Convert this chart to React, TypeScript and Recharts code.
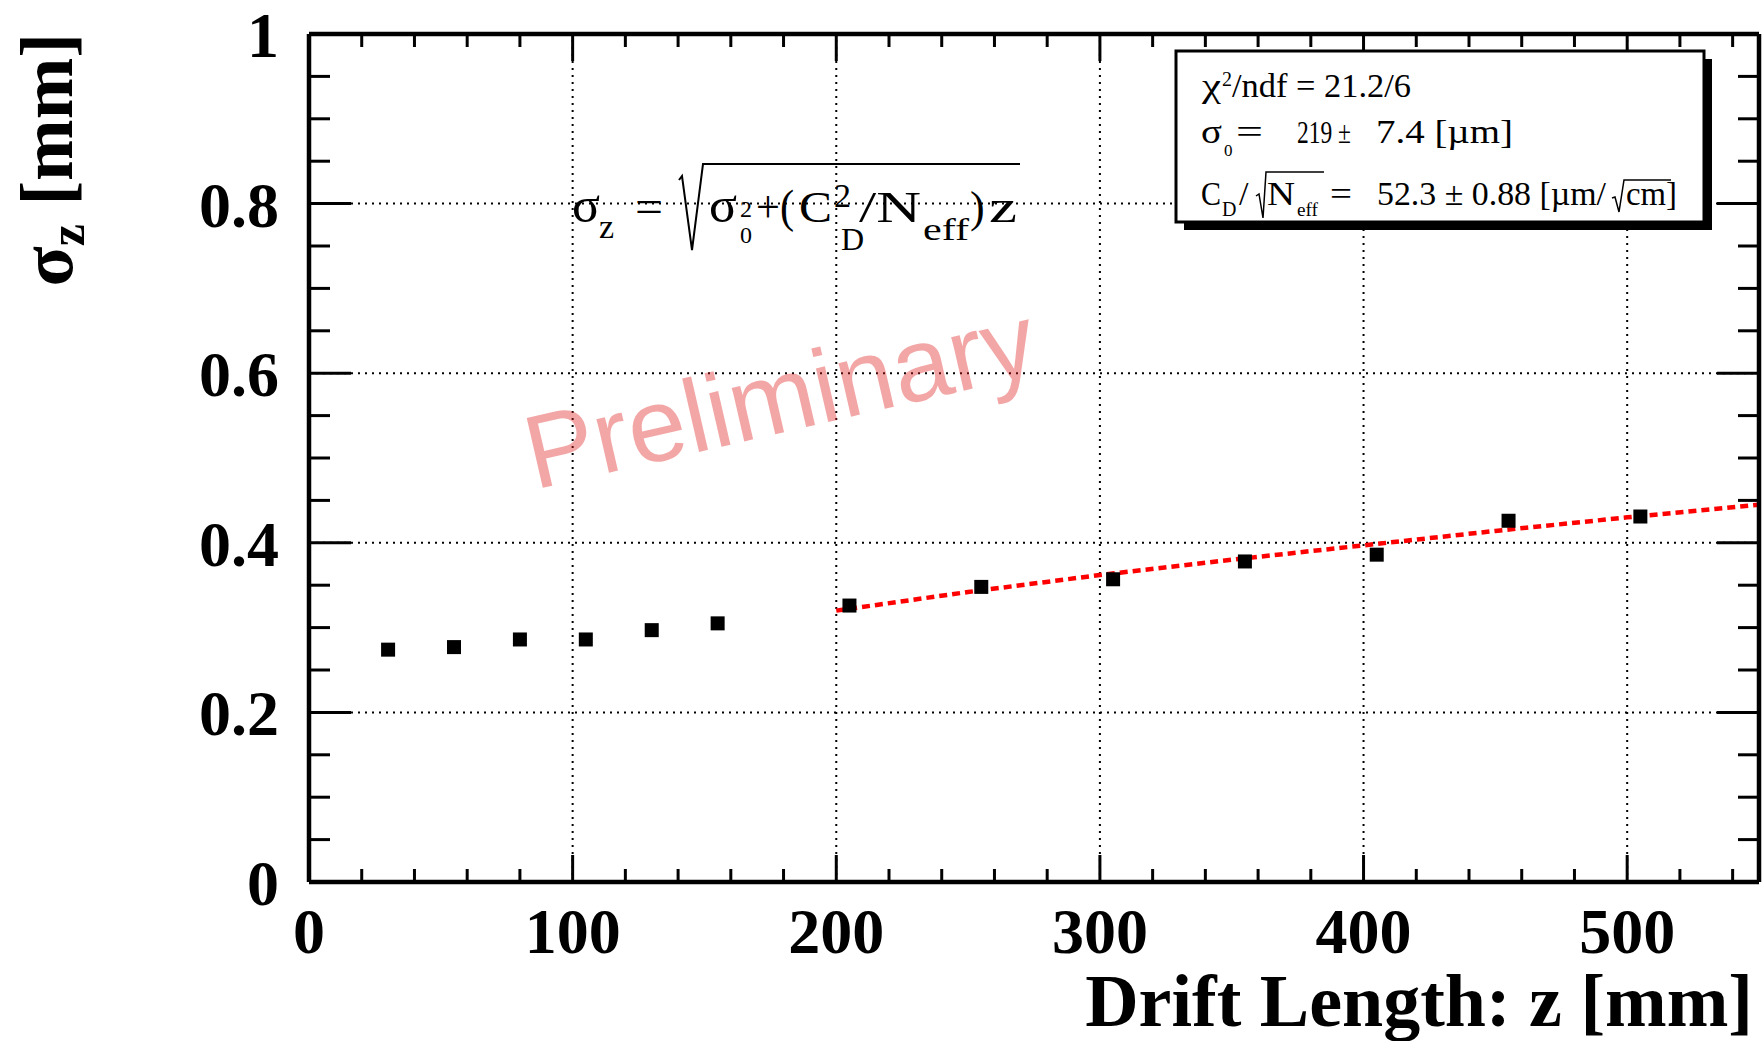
import React from "react";
import { ComposedChart, XAxis, YAxis, Scatter, Line, ReferenceLine } from "recharts";

// measured sigma_z vs drift length
const driftZ = [30, 55, 80, 105, 130, 155, 205, 255, 305, 355, 405, 455, 505];
const sigmaZ = [0.274, 0.277, 0.286, 0.286, 0.297, 0.305, 0.326, 0.348, 0.357, 0.378, 0.386, 0.426, 0.431];

// fit curve
const fitZ = [200, 250, 300, 350, 400, 450, 500, 550];
const fitSigma = [0.32, 0.342, 0.362, 0.38, 0.397, 0.414, 0.43, 0.445];

const xTicks = [0, 20, 40, 60, 80, 100, 120, 140, 160, 180, 200, 220, 240, 260, 280, 300, 320, 340, 360, 380, 400, 420, 440, 460, 480, 500, 520, 540];
const xLabelTicks = [0, 100, 200, 300, 400, 500];
const yTicks = [0, 0.05, 0.1, 0.15, 0.2, 0.25, 0.3, 0.35, 0.4, 0.45, 0.5, 0.55, 0.6, 0.65, 0.7, 0.75, 0.8, 0.85, 0.9, 0.95, 1];
const yLabelTicks = [0, 0.2, 0.4, 0.6, 0.8, 1];
const xGrid = [100, 200, 300, 400, 500];
const yGrid = [0.2, 0.4, 0.6, 0.8];

const points = driftZ.map((z, i) => ({ z, s: sigmaZ[i] }));
const fit = fitZ.map((z, i) => ({ z, s: fitSigma[i] }));

const SERIF = "'Liberation Serif', 'Times New Roman', serif";
const SANS = "'Liberation Sans', Arial, sans-serif";

const isMajorX = (v: number) => xLabelTicks.includes(v);
const isMajorY = (v: number) => yLabelTicks.some((t) => Math.abs(t - v) < 1e-9);

function BottomTick({ x, y, payload }: any) {
  const major = isMajorX(payload.value);
  return (
    <g>
      <line x1={x} x2={x} y1={y} y2={y - (major ? 27 : 13)} stroke="#000" strokeWidth={3} />
      {major && (
        <text x={x} y={y + 71} textAnchor="middle" fontFamily={SERIF} fontWeight="bold" fontSize={64} fill="#000">
          {payload.value}
        </text>
      )}
    </g>
  );
}

function TopTick({ x, y, payload }: any) {
  const major = isMajorX(payload.value);
  return <line x1={x} x2={x} y1={y} y2={y + (major ? 27 : 13)} stroke="#000" strokeWidth={3} />;
}

function LeftTick({ x, y, payload }: any) {
  const major = isMajorY(payload.value);
  return (
    <g>
      <line x1={x} x2={x + (major ? 42 : 21)} y1={y} y2={y} stroke="#000" strokeWidth={3} />
      {major && (
        <text x={x - 30} y={y + 23} textAnchor="end" fontFamily={SERIF} fontWeight="bold" fontSize={64} fill="#000">
          {payload.value}
        </text>
      )}
    </g>
  );
}

function RightTick({ x, y, payload }: any) {
  const major = isMajorY(payload.value);
  return <line x1={x} x2={x - (major ? 42 : 21)} y1={y} y2={y} stroke="#000" strokeWidth={3} />;
}

function Square({ cx, cy }: any) {
  return <rect x={cx - 7} y={cy - 7} width={14} height={14} fill="#000" />;
}

function Overlay() {
  const t = { fontFamily: SERIF, fill: "#000" };
  return (
    <svg width={1764} height={1041} style={{ position: "absolute", left: 0, top: 0, pointerEvents: "none" }}>
      {/* watermark */}
      <text
        x={782}
        y={432}
        textAnchor="middle"
        fontFamily={SANS}
        fontSize={104}
        fill="#e02020"
        fillOpacity={0.4}
        transform="rotate(-13 782 406)"
      >
        Preliminary
      </text>

      {/* fit formula */}
      <g {...t}>
        <text x={572} y={222} fontSize={50} textLength={28} lengthAdjust="spacingAndGlyphs">σ</text>
        <text x={599} y={238} fontSize={34}>z</text>
        <text x={635} y={222} fontSize={46} textLength={28} lengthAdjust="spacingAndGlyphs">=</text>
        <path d="M679 180 L682 176 L692 250 L703 164 L1020 164" fill="none" stroke="#000" strokeWidth={2} />
        <text x={709} y={222} fontSize={50} textLength={28} lengthAdjust="spacingAndGlyphs">σ</text>
        <text x={740} y={217} fontSize={24}>2</text>
        <text x={740} y={243} fontSize={24}>0</text>
        <text x={756} y={222} fontSize={46} textLength={38} lengthAdjust="spacingAndGlyphs">+(</text>
        <text x={799} y={222} fontSize={44} textLength={33} lengthAdjust="spacingAndGlyphs">C</text>
        <text x={834} y={207} fontSize={34}>2</text>
        <text x={841} y={250} fontSize={32}>D</text>
        <text x={859} y={222} fontSize={44} textLength={62} lengthAdjust="spacingAndGlyphs">/N</text>
        <text x={923} y={240} fontSize={32} textLength={46} lengthAdjust="spacingAndGlyphs">eff</text>
        <text x={970} y={222} fontSize={44}>)</text>
        <text x={989} y={222} fontSize={46} textLength={28} lengthAdjust="spacingAndGlyphs">z</text>
      </g>

      {/* stats box */}
      <rect x={1184} y={59} width={528} height={171} fill="#000" />
      <rect x={1176} y={51} width={528} height={171} fill="#fff" stroke="#000" strokeWidth={3} />
      <g {...t} fontSize={34}>
        <text x={1202} y={97} textLength={19} lengthAdjust="spacingAndGlyphs">χ</text>
        <text x={1222} y={86} fontSize={20}>2</text>
        <text x={1232} y={97} textLength={179} lengthAdjust="spacingAndGlyphs">/ndf = 21.2/6</text>

        <text x={1201} y={143} textLength={21} lengthAdjust="spacingAndGlyphs">σ</text>
        <text x={1224} y={156} fontSize={17}>0</text>
        <text x={1236} y={143} textLength={27} lengthAdjust="spacingAndGlyphs">=</text>
        <text x={1297} y={143} fontSize={32} textLength={54} lengthAdjust="spacingAndGlyphs">219 ±</text>
        <text x={1376} y={143} textLength={137} lengthAdjust="spacingAndGlyphs">7.4 [µm]</text>

        <text x={1201} y={205} textLength={20} lengthAdjust="spacingAndGlyphs">C</text>
        <text x={1222} y={216} fontSize={20}>D</text>
        <text x={1239} y={205}>/</text>
        <path d="M1256 196 L1259 194 L1263 218 L1266 172 L1324 172" fill="none" stroke="#000" strokeWidth={1.5} />
        <text x={1267} y={205} textLength={28} lengthAdjust="spacingAndGlyphs">N</text>
        <text x={1297} y={216} fontSize={18} textLength={21} lengthAdjust="spacingAndGlyphs">eff</text>
        <text x={1330} y={205} textLength={22} lengthAdjust="spacingAndGlyphs">=</text>
        <text x={1377} y={205} textLength={229} lengthAdjust="spacingAndGlyphs">52.3 ± 0.88 [µm/</text>
        <path d="M1612 198 L1615 197 L1619 212 L1624 180 L1671 180" fill="none" stroke="#000" strokeWidth={1.5} />
        <text x={1626} y={205} textLength={51} lengthAdjust="spacingAndGlyphs">cm]</text>
      </g>

      {/* axis titles */}
      <text x={1753} y={1026} textAnchor="end" fontFamily={SERIF} fontWeight="bold" fontSize={74} fill="#000">
        Drift Length: z [mm]
      </text>
      <text
        transform="rotate(-90)"
        x={-33}
        y={72}
        textAnchor="end"
        fontFamily={SERIF}
        fontWeight="bold"
        fontSize={74}
        fill="#000"
      >
        σ<tspan fontSize={50} dy={12}>z</tspan>
        <tspan dy={-12}> [mm]</tspan>
      </text>
    </svg>
  );
}

export default function App() {
  return (
    <div style={{ position: "absolute", left: 0, top: 0, width: 1764, height: 1041, background: "#fff" }}>
      <div style={{ position: "absolute", left: 0, top: 0 }}>
        <ComposedChart width={1764} height={1041} margin={{ top: 33, right: 4, bottom: 158, left: 308 }}>
          <XAxis
            xAxisId="b"
            type="number"
            dataKey="z"
            domain={[0, 550]}
            ticks={xTicks}
            interval={0}
            allowDataOverflow
            height={1}
            tickSize={0}
            tickMargin={0}
            tickLine={false}
            axisLine={{ stroke: "#000", strokeWidth: 4.5 }}
            tick={(p: any) => <BottomTick {...p} />}
          />
          <XAxis
            xAxisId="t"
            orientation="top"
            type="number"
            dataKey="z"
            domain={[0, 550]}
            ticks={xTicks}
            interval={0}
            allowDataOverflow
            height={1}
            tickSize={0}
            tickMargin={0}
            tickLine={false}
            axisLine={{ stroke: "#000", strokeWidth: 4.5 }}
            tick={(p: any) => <TopTick {...p} />}
          />
          <YAxis
            yAxisId="l"
            type="number"
            dataKey="s"
            domain={[0, 1]}
            ticks={yTicks}
            interval={0}
            allowDataOverflow
            width={1}
            tickSize={0}
            tickMargin={0}
            tickLine={false}
            axisLine={{ stroke: "#000", strokeWidth: 4.5 }}
            tick={(p: any) => <LeftTick {...p} />}
          />
          <YAxis
            yAxisId="r"
            orientation="right"
            type="number"
            dataKey="s"
            domain={[0, 1]}
            ticks={yTicks}
            interval={0}
            allowDataOverflow
            width={1}
            tickSize={0}
            tickMargin={0}
            tickLine={false}
            axisLine={{ stroke: "#000", strokeWidth: 4.5 }}
            tick={(p: any) => <RightTick {...p} />}
          />
          {xGrid.map((v) => (
            <ReferenceLine key={"gx" + v} x={v} xAxisId="b" yAxisId="l" stroke="#000" strokeWidth={2} strokeDasharray="2 5" />
          ))}
          {yGrid.map((v) => (
            <ReferenceLine key={"gy" + v} y={v} xAxisId="b" yAxisId="l" stroke="#000" strokeWidth={2} strokeDasharray="2 5" />
          ))}
          <Scatter data={points} xAxisId="b" yAxisId="l" shape={Square} isAnimationActive={false} />
          <Line
            data={fit}
            dataKey="s"
            xAxisId="b"
            yAxisId="l"
            type="linear"
            stroke="#ff0000"
            strokeWidth={4.5}
            strokeDasharray="8 5"
            dot={false}
            activeDot={false}
            isAnimationActive={false}
          />
        </ComposedChart>
      </div>
      <Overlay />
    </div>
  );
}
